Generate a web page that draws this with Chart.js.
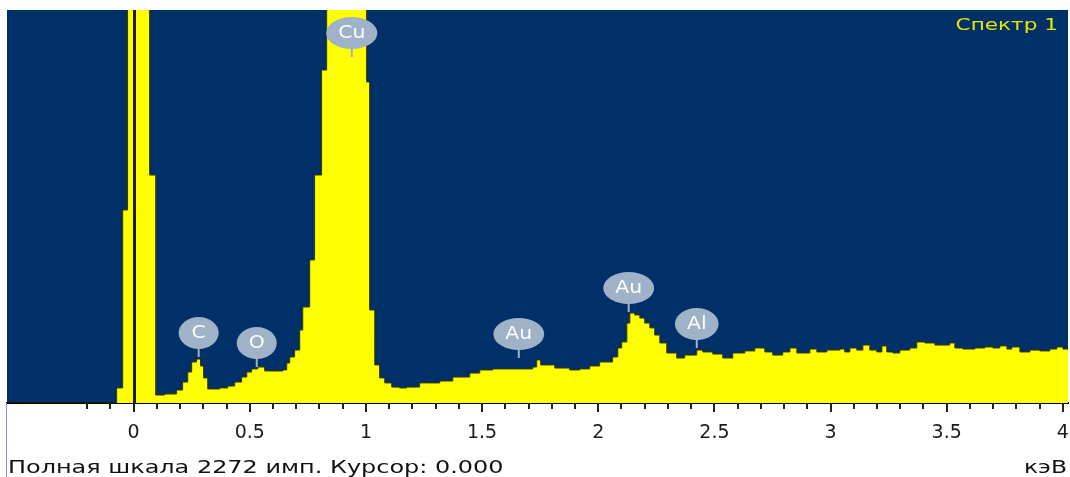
<!DOCTYPE html>
<html>
<head>
<meta charset="utf-8">
<script src="https://cdn.jsdelivr.net/npm/chart.js@4.4.1/dist/chart.umd.min.js"></script>
<style>
  html, body { margin: 0; padding: 0; background: #fff; }
  #wrap { width: 1070px; height: 477px; position: relative; }
</style>
</head>
<body>
<div id="wrap"><canvas id="spectrum"></canvas></div>
<script>
// spectrum, energy in keV and counts (step start points)
var energies = [-0.55, -0.073, -0.047, -0.026, 0.069, 0.095, 0.133, 0.185, 0.211, 0.233,
  0.250, 0.271, 0.288, 0.301, 0.319, 0.370, 0.405, 0.435, 0.465, 0.487,
  0.508, 0.534, 0.564, 0.642, 0.659, 0.672, 0.693, 0.715, 0.728, 0.758,
  0.779, 0.809, 0.831, 1.003, 1.016, 1.038, 1.059, 1.081, 1.111, 1.145,
  1.175, 1.231, 1.318, 1.374, 1.447, 1.490, 1.546, 1.718, 1.735, 1.752,
  1.813, 1.877, 1.920, 1.963, 2.006, 2.062, 2.084, 2.101, 2.123, 2.136,
  2.157, 2.179, 2.200, 2.222, 2.243, 2.265, 2.295, 2.338, 2.372, 2.424,
  2.450, 2.493, 2.536, 2.579, 2.631, 2.674, 2.717, 2.751, 2.794, 2.825,
  2.855, 2.911, 2.941, 2.984, 3.040, 3.061, 3.083, 3.113, 3.139, 3.169,
  3.199, 3.221, 3.242, 3.268, 3.298, 3.341, 3.371, 3.406, 3.449, 3.483,
  3.513, 3.535, 3.569, 3.621, 3.664, 3.699, 3.729, 3.759, 3.780, 3.815,
  3.858, 3.901, 3.944, 3.974, 4.000, 4.022];
var counts = [0, 87, 1116, 2600, 1318, 46, 52, 75, 121, 179,
  237, 254, 214, 145, 81, 87, 98, 121, 150, 179,
  197, 208, 185, 191, 231, 266, 306, 422, 555, 827,
  1318, 1925, 2600, 1856, 538, 220, 145, 116, 92, 87,
  92, 116, 127, 150, 173, 191, 197, 208, 249, 220,
  202, 191, 197, 214, 237, 266, 318, 353, 462, 520,
  509, 491, 462, 434, 393, 347, 289, 260, 277, 306,
  295, 283, 260, 289, 301, 318, 295, 277, 295, 318,
  289, 312, 295, 306, 312, 295, 318, 306, 335, 306,
  295, 330, 295, 289, 306, 318, 353, 347, 335, 335,
  347, 318, 312, 318, 324, 318, 330, 312, 324, 295,
  306, 301, 312, 324, 312, 312];

var fullScale = 2272;
var tickValues = [0, 0.5, 1, 1.5, 2, 2.5, 3, 3.5, 4];
var tickLabels = ["0", "0.5", "1", "1.5", "2", "2.5", "3", "3.5", "4"];

// element markers
var peakNames = ["C", "O", "Cu", "Au", "Au", "Al"];
var peakEnergies = [0.28, 0.53, 0.939, 1.658, 2.131, 2.424];
var peakHeights = [266, 208, 2000, 260, 526, 318];

var cursorValue = 0;
var spectrumTitle = "Спектр 1";
var footerText = "Полная шкала 2272 имп. Курсор: 0.000";
var unitText = "кэВ";

function stretchText(ctx, text, x, y, align, sx) {
  var w = ctx.measureText(text).width * sx;
  var left = align === "right" ? x - w : x;
  ctx.save();
  ctx.translate(left, y);
  ctx.scale(sx, 1);
  ctx.textAlign = "left";
  ctx.fillText(text, 0, 0);
  ctx.restore();
}

var spectrumDecor = {
  id: "spectrumDecor",
  beforeDraw: function(chart) {
    var a = chart.chartArea, ctx = chart.ctx;
    ctx.save();
    ctx.fillStyle = "#003068";
    ctx.fillRect(a.left, a.top, a.right - a.left, a.bottom - a.top);
    ctx.restore();
  },
  afterDatasetsDraw: function(chart) {
    var a = chart.chartArea, ctx = chart.ctx;
    var xs = chart.scales.x, ys = chart.scales.y;
    ctx.save();
    // cursor
    var cx = xs.getPixelForValue(cursorValue);
    ctx.fillStyle = "#1c1c10";
    ctx.fillRect(Math.round(cx) - 1, a.top, 3, a.bottom - a.top);

    // element labels
    ctx.font = "17px 'DejaVu Sans'";
    ctx.textAlign = "center";
    ctx.textBaseline = "middle";
    for (var i = 0; i < peakNames.length; i++) {
      var px = xs.getPixelForValue(peakEnergies[i]);
      var py = ys.getPixelForValue(peakHeights[i]);
      var tw = ctx.measureText(peakNames[i]).width * 1.2;
      var rx = Math.max(20, tw / 2 + 12), ry = 16;
      var cy = py - 8 - ry;
      ctx.strokeStyle = "#9fb2c8";
      ctx.lineWidth = 2;
      ctx.beginPath();
      ctx.moveTo(px, py);
      ctx.lineTo(px, cy + ry - 2);
      ctx.stroke();
      ctx.fillStyle = "#9fb2c8";
      ctx.beginPath();
      ctx.ellipse(px, cy, rx, ry, 0, 0, Math.PI * 2);
      ctx.fill();
      ctx.fillStyle = "#ffffff";
      ctx.save();
      ctx.translate(px, cy + 1);
      ctx.scale(1.2, 1);
      ctx.fillText(peakNames[i], 0, 0);
      ctx.restore();
    }
    ctx.restore();
  },
  afterDraw: function(chart) {
    var a = chart.chartArea, ctx = chart.ctx;
    var xs = chart.scales.x;
    ctx.save();
    // tick marks, minor every 0.1 keV
    ctx.fillStyle = "#222";
    for (var i = -2; i <= 40; i++) {
      var px = Math.round(xs.getPixelForValue(i / 10));
      var len = i % 5 === 0 ? 9 : 6;
      ctx.fillRect(px - 1, a.bottom, 2, len);
    }
    // thin panel border on the left
    ctx.fillStyle = "#8a96b4";
    ctx.fillRect(a.left - 1, a.bottom, 1, chart.height - a.bottom);

    // title
    ctx.fillStyle = "#e6e600";
    ctx.font = "16px 'DejaVu Sans'";
    ctx.textBaseline = "middle";
    stretchText(ctx, spectrumTitle, 1058, 26, "right", 1.35);

    // footer
    ctx.fillStyle = "#111";
    ctx.font = "18px 'DejaVu Sans'";
    ctx.textBaseline = "alphabetic";
    stretchText(ctx, footerText, 8, 473, "left", 1.33);
    stretchText(ctx, unitText, 1067, 473, "right", 1.3);
    ctx.restore();
  }
};

var ctx = document.getElementById("spectrum");
var spectrumChart = new Chart(ctx, {
  type: "line",
  data: {
    datasets: [{
      label: "Спектр 1",
      data: energies.map(function(e, i) { return { x: e, y: counts[i] }; }),
      stepped: true,
      fill: "origin",
      backgroundColor: "#ffff00",
      borderColor: "#3a3a00",
      borderWidth: 1,
      pointRadius: 0
    }]
  },
  options: {
    responsive: true,
    maintainAspectRatio: false,
    animation: false,
    layout: { autoPadding: false, padding: { left: 7, right: 2, top: 10, bottom: 0 } },
    plugins: {
      legend: { display: false },
      tooltip: { enabled: false }
    },
    scales: {
      x: {
        type: "linear",
        min: -0.545,
        max: 4.022,
        afterBuildTicks: function(scale) {
          scale.ticks = tickValues.map(function(v) { return { value: v }; });
        },
        afterFit: function(scale) {
          scale.height = 74;
          scale.paddingLeft = 0;
          scale.paddingRight = 0;
        },
        grid: { display: false, drawTicks: false },
        border: { display: true, color: "#000", width: 2 },
        ticks: {
          autoSkip: false,
          maxRotation: 0,
          padding: 19,
          color: "#1a1a1a",
          font: { family: "'DejaVu Sans'", size: 19 },
          callback: function(value, index) { return tickLabels[index]; }
        }
      },
      y: {
        display: false,
        min: 0,
        max: fullScale
      }
    }
  },
  plugins: [spectrumDecor]
});
</script>
</body>
</html>
